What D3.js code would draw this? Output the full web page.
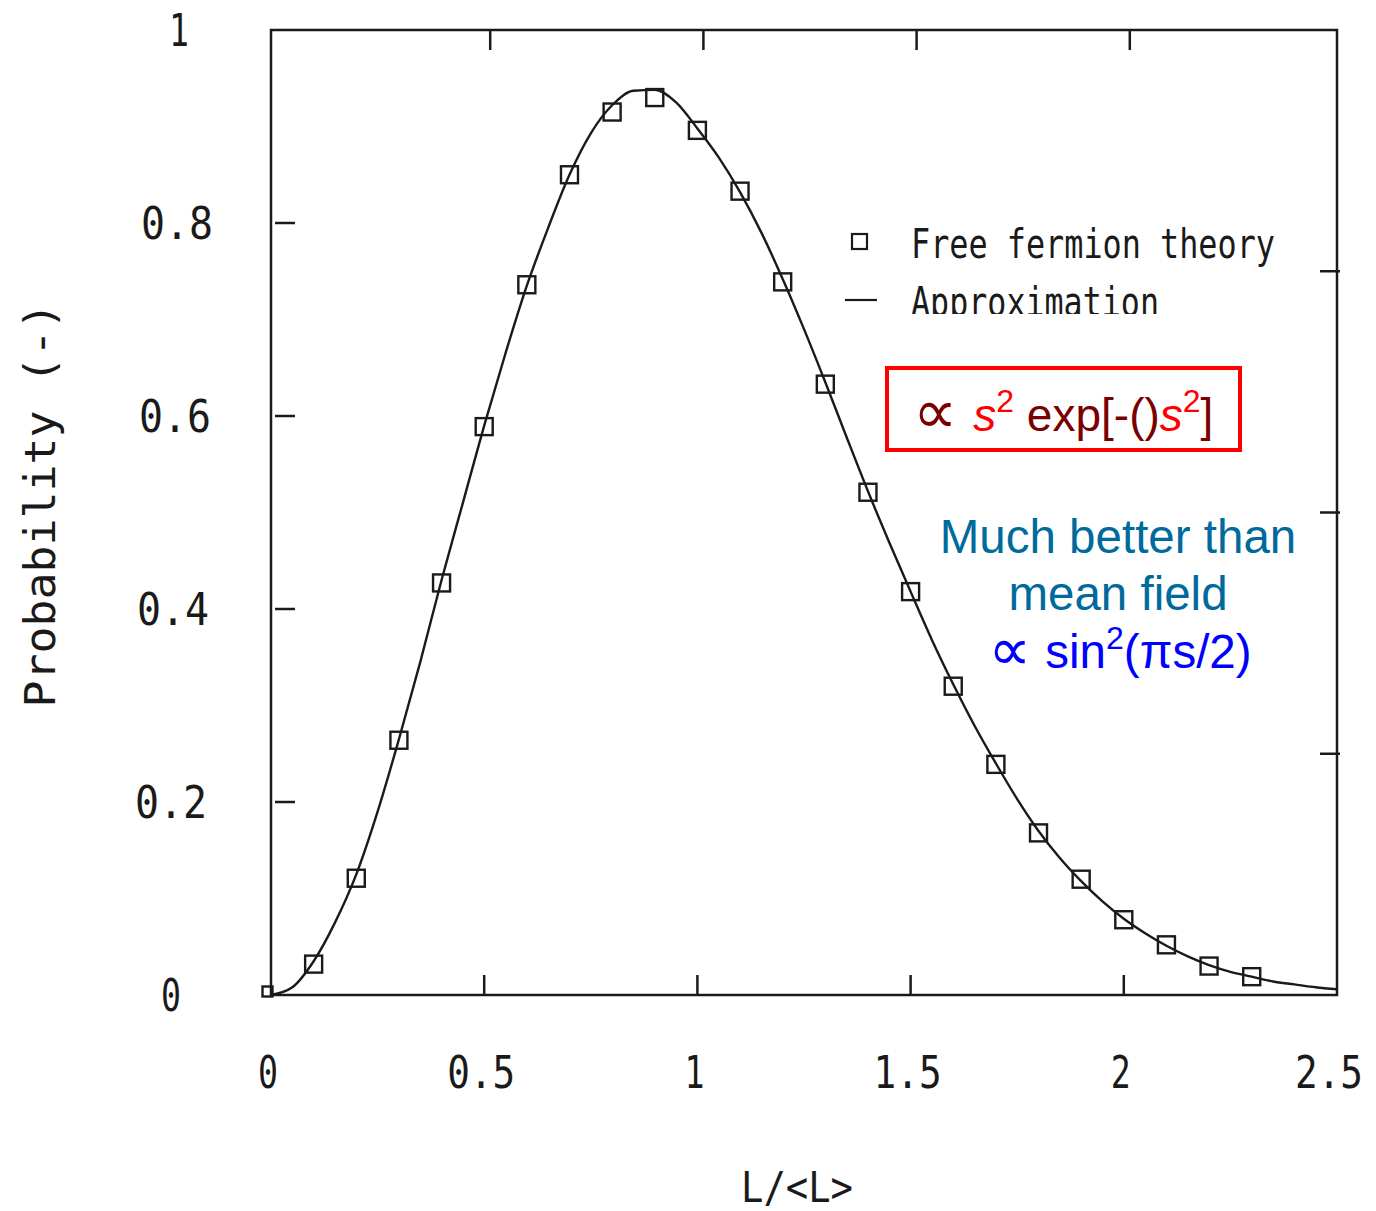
<!DOCTYPE html>
<html>
<head>
<meta charset="utf-8">
<script src="https://cdn.jsdelivr.net/npm/d3@7"></script>
<style>
  html, body { margin: 0; padding: 0; background: #fff; }
  svg { display: block; }
</style>
</head>
<body>
<svg id="chart" width="1376" height="1211"></svg>
<script>
// ---- Data ----
const pointX = [0,0.1,0.2,0.3,0.4,0.5,0.6,0.7,0.8,0.9,1.0,1.1,1.2,1.3,1.4,1.5,1.6,1.7,1.8,1.9,2.0,2.1,2.2,2.3];
const pointY = [0.0,0.032,0.121,0.264,0.427,0.589,0.736,0.850,0.915,0.930,0.896,0.833,0.739,0.633,0.521,0.418,0.320,0.239,0.168,0.120,0.078,0.052,0.030,0.019];

const curveX = [0,0.05,0.1,0.15,0.2,0.25,0.3,0.35,0.4,0.45,0.5,0.55,0.6,0.65,0.7,0.75,0.8,0.85,0.9,0.95,1.0,1.05,1.1,1.15,1.2,1.25,1.3,1.35,1.4,1.45,1.5,1.55,1.6,1.65,1.7,1.75,1.8,1.85,1.9,1.95,2.0,2.05,2.1,2.15,2.2,2.25,2.3,2.35,2.4,2.45,2.5];
const curveY = [0,0.008,0.035,0.075,0.125,0.19,0.265,0.345,0.43,0.51,0.59,0.665,0.735,0.795,0.85,0.893,0.922,0.937,0.938,0.925,0.898,0.868,0.832,0.79,0.742,0.69,0.635,0.578,0.522,0.469,0.418,0.368,0.322,0.279,0.240,0.203,0.170,0.142,0.118,0.097,0.079,0.064,0.051,0.040,0.031,0.024,0.019,0.014,0.011,0.008,0.006];

const xTicks = [0.5, 1, 1.5, 2];
const xTickLabels = ["0", "0.5", "1", "1.5", "2", "2.5"];
const xLabelValues = [0, 0.5, 1, 1.5, 2, 2.5];
const yTicksLeft = [0.2, 0.4, 0.6, 0.8];
const yTicksRight = [0.25, 0.5, 0.75];
const yTickLabels = ["0", "0.2", "0.4", "0.6", "0.8", "1"];
const yLabelValues = [0, 0.2, 0.4, 0.6, 0.8, 1];

const legendLabels = ["Free fermion theory", "Approximation"];

// ---- Setup ----
const svg = d3.select("#chart");
const x = d3.scaleLinear().domain([0, 2.5]).range([271, 1337]);
const y = d3.scaleLinear().domain([0, 1]).range([995, 30]);
const mono = "'DejaVu Sans Mono', monospace";
const ink = "#1a1a1a";

// Frame
svg.append("rect")
  .attr("x", x(0)).attr("y", y(1))
  .attr("width", x(2.5) - x(0)).attr("height", y(0) - y(1))
  .attr("fill", "none").attr("stroke", ink).attr("stroke-width", 2.5);

const tickLen = 20;
svg.selectAll(".xtb").data(xTicks).join("line")
  .attr("x1", d => x(d)).attr("x2", d => x(d))
  .attr("y1", y(0)).attr("y2", y(0) - tickLen)
  .attr("stroke", ink).attr("stroke-width", 2.5);
svg.selectAll(".xtt").data(xTicks).join("line")
  .attr("x1", d => x(d) + 6).attr("x2", d => x(d) + 6)
  .attr("y1", y(1)).attr("y2", y(1) + tickLen)
  .attr("stroke", ink).attr("stroke-width", 2.5);
svg.selectAll(".ytl").data(yTicksLeft).join("line")
  .attr("x1", x(0) + 4).attr("x2", x(0) + 4 + tickLen)
  .attr("y1", d => y(d)).attr("y2", d => y(d))
  .attr("stroke", ink).attr("stroke-width", 2.5);
svg.selectAll(".ytr").data(yTicksRight).join("line")
  .attr("x1", x(2.5) + 3).attr("x2", x(2.5) + 3 - tickLen)
  .attr("y1", d => y(d)).attr("y2", d => y(d))
  .attr("stroke", ink).attr("stroke-width", 2.5);

// Tick labels
svg.selectAll(".xl").data(xLabelValues).join("text")
  .attr("x", d => x(d) - 3 - (d === 2.5 ? 5 : 0)).attr("y", 1088)
  .attr("text-anchor", "middle")
  .attr("font-family", mono).attr("font-size", 44)
  .attr("fill", ink)
  .attr("textLength", (d, i) => xTickLabels[i].length === 1 ? 20 : 68)
  .attr("lengthAdjust", "spacingAndGlyphs")
  .text((d, i) => xTickLabels[i]);

svg.selectAll(".yl").data(yLabelValues).join("text")
  .attr("x", (d, i) => yTickLabels[i].length === 1 ? (d === 0 ? 171 : 179) : 210 + (d - 0.5) * 10)
  .attr("y", d => y(d) + 16)
  .attr("text-anchor", (d, i) => yTickLabels[i].length === 1 ? "middle" : "end")
  .attr("font-family", mono).attr("font-size", 44)
  .attr("fill", ink)
  .attr("textLength", (d, i) => yTickLabels[i].length === 1 ? 20 : 72)
  .attr("lengthAdjust", "spacingAndGlyphs")
  .text((d, i) => yTickLabels[i]);

// Axis titles
svg.append("text")
  .attr("x", 797).attr("y", 1202)
  .attr("text-anchor", "middle")
  .attr("font-family", mono).attr("font-size", 42)
  .attr("fill", ink)
  .attr("textLength", 112).attr("lengthAdjust", "spacingAndGlyphs")
  .text("L/<L>");

svg.append("text")
  .attr("transform", "translate(55,505) rotate(-90)")
  .attr("text-anchor", "middle")
  .attr("font-family", mono).attr("font-size", 42)
  .attr("fill", ink)
  .attr("textLength", 405).attr("lengthAdjust", "spacingAndGlyphs")
  .text("Probability  (-)");

// Curve
const line = d3.line().x(d => x(d[0])).y(d => y(d[1])).curve(d3.curveMonotoneX);
svg.append("path")
  .datum(curveX.map((v, i) => [v, curveY[i]]))
  .attr("d", line)
  .attr("fill", "none").attr("stroke", ink).attr("stroke-width", 2.4);

// Squares
const sq = 17;
svg.selectAll(".pt").data(pointX.map((v, i) => [v, pointY[i]])).join("rect")
  .attr("x", d => x(d[0]) - sq / 2).attr("y", d => y(d[1]) - sq / 2)
  .attr("width", d => d[0] === 0 ? 10 : sq).attr("height", d => d[0] === 0 ? 10 : sq)
  .attr("fill", "none").attr("stroke", ink).attr("stroke-width", 2.4);

// Legend
svg.append("rect").attr("x", 852).attr("y", 234).attr("width", 15).attr("height", 15)
  .attr("fill", "none").attr("stroke", ink).attr("stroke-width", 2.2);
svg.append("line").attr("x1", 845).attr("x2", 877).attr("y1", 300).attr("y2", 300)
  .attr("stroke", ink).attr("stroke-width", 2.2);

svg.append("text")
  .attr("x", 911).attr("y", 258)
  .attr("font-family", mono).attr("font-size", 40).attr("fill", ink)
  .attr("textLength", 364).attr("lengthAdjust", "spacingAndGlyphs")
  .text(legendLabels[0]);

svg.append("clipPath").attr("id", "legclip")
  .append("rect").attr("x", 880).attr("y", 270).attr("width", 320).attr("height", 44);
svg.append("text")
  .attr("x", 911).attr("y", 316)
  .attr("clip-path", "url(#legclip)")
  .attr("font-family", mono).attr("font-size", 40).attr("fill", ink)
  .attr("textLength", 248).attr("lengthAdjust", "spacingAndGlyphs")
  .text(legendLabels[1]);

// Red annotation box
svg.append("rect").attr("x", 887).attr("y", 368).attr("width", 353).attr("height", 82)
  .attr("fill", "none").attr("stroke", "#ff0000").attr("stroke-width", 4);

const sans = "'Liberation Sans', Arial, sans-serif";
const dark = "#7a0000";
const red = "#ff0000";
const t1 = svg.append("text").attr("x", 913).attr("y", 431)
  .attr("font-family", sans).attr("font-size", 46);
t1.append("tspan").attr("fill", dark).attr("font-size", 62).attr("font-family", "'DejaVu Sans', sans-serif").attr("dy", 2).text("∝");
t1.append("tspan").attr("fill", red).attr("font-style", "italic").attr("dx", 16).attr("dy", -2).text("s");
t1.append("tspan").attr("fill", red).attr("font-size", 32).attr("dy", -19).text("2");
t1.append("tspan").attr("fill", dark).attr("dy", 19).text(" exp[-()");
t1.append("tspan").attr("fill", red).attr("font-style", "italic").text("s");
t1.append("tspan").attr("fill", red).attr("font-size", 32).attr("dy", -19).text("2");
t1.append("tspan").attr("fill", dark).attr("dy", 19).text("]");

// Blue annotation
const teal = "#006a9c";
svg.append("text").attr("x", 1118).attr("y", 553).attr("text-anchor", "middle")
  .attr("font-family", sans).attr("font-size", 47.5).attr("fill", teal).text("Much better than");
svg.append("text").attr("x", 1118).attr("y", 610).attr("text-anchor", "middle")
  .attr("font-family", sans).attr("font-size", 47.5).attr("fill", teal).text("mean field");
const t3 = svg.append("text").attr("x", 1120).attr("y", 668).attr("text-anchor", "middle")
  .attr("font-family", sans).attr("font-size", 47.5).attr("fill", "#0000ff");
t3.append("tspan").attr("font-size", 60).attr("font-family", "'DejaVu Sans', sans-serif").attr("dy", 2).text("∝");
t3.append("tspan").attr("dx", 14).attr("dy", -2).text("sin");
t3.append("tspan").attr("font-size", 32).attr("dy", -19).text("2");
t3.append("tspan").attr("dy", 19).text("(πs/2)");
</script>
</body>
</html>
